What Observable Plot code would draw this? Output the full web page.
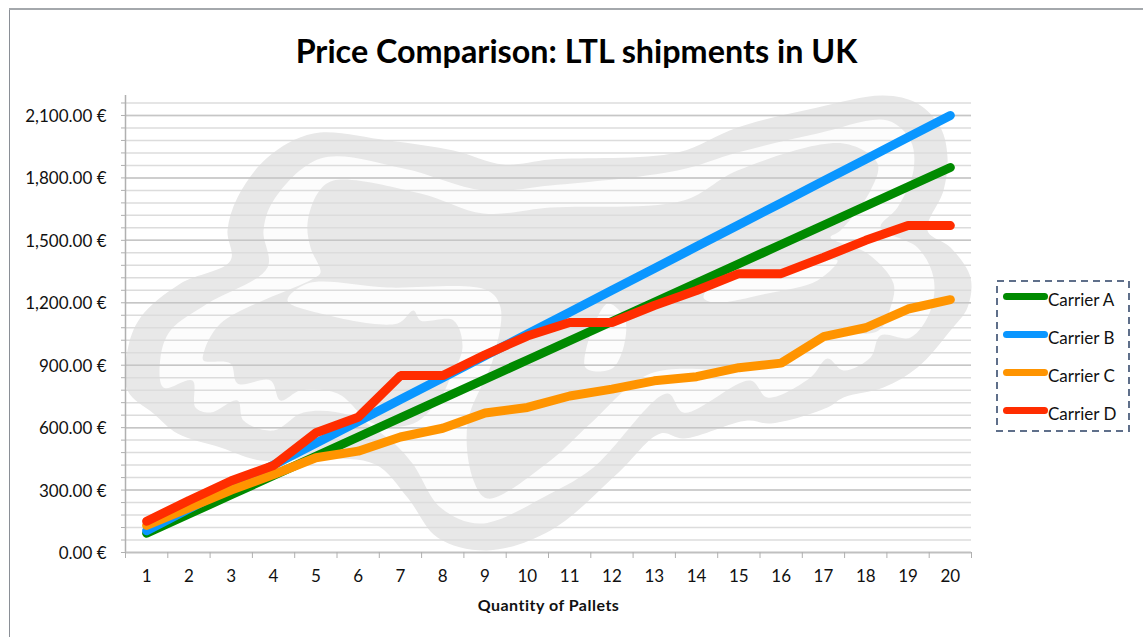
<!DOCTYPE html>
<html><head><meta charset="utf-8">
<script src="https://cdn.jsdelivr.net/npm/d3@7"></script>
<script src="https://cdn.jsdelivr.net/npm/@observablehq/plot@0.6"></script>
<style>
html,body{margin:0;padding:0;background:#fff}
#page{position:relative;width:1143px;height:637px;overflow:hidden;font-family:Lato,sans-serif;color:#111}
#title{height:95px;box-sizing:border-box;padding-top:30px;text-align:center;font-size:32.3px;line-height:42px;font-weight:700;color:#000;margin-left:10px}
#edgeL{position:absolute;left:9px;top:9px;bottom:0;width:1px;background:#8a8f96}
#edgeT{position:absolute;left:9px;right:0;top:8px;height:2px;background:#a4a8ac}
#legend{position:absolute;left:996px;top:280px;width:134px;height:152px;box-sizing:border-box}
#legend svg{position:absolute;left:0;top:0}
.row{position:absolute;left:7px;height:20px;display:flex;align-items:center;font-size:17px}
.sw{display:block;width:45px;height:7px;border-radius:4px;margin-top:-5px}
svg{display:block;font-family:Lato,sans-serif}
[aria-label="x-axis label"] text{font-weight:700;font-size:16px;letter-spacing:.5px}
</style></head><body>
<div id="page">
<div id="edgeL"></div><div id="edgeT"></div>
<div id="title">Price Comparison: LTL shipments in UK</div>
<div id="chart"></div>
<div id="legend"><svg width="134" height="152"><rect x="1" y="1" width="132" height="150" fill="none" stroke="#5f6f8a" stroke-width="2" stroke-dasharray="7 5"/></svg></div>
</div>
<script>
const pallets=[1,2,3,4,5,6,7,8,9,10,11,12,13,14,15,16,17,18,19,20];
const carrierA=[92.5,185,277.5,370,462.5,555,647.5,740,832.5,925,1017.5,1110,1202.5,1295,1387.5,1480,1572.5,1665,1757.5,1850];
const carrierB=[105,210,315,420,525,630,735,840,945,1050,1155,1260,1365,1470,1575,1680,1785,1890,1995,2100];
const carrierC=[130,215,300,375,455,487,555,597,670,697,752,785,825,845,888,910,1037,1080,1170,1215];
const carrierD=[150,250,345,418,575,650,850,850,950,1040,1105,1105,1187,1259,1340,1340,1418,1500,1571,1571];
const names=["Carrier A","Carrier B","Carrier C","Carrier D"];
const colors=["#008a00","#0a96ff","#ff9400","#ff2d00"];
const seriesValues=[carrierA,carrierB,carrierC,carrierD];
const majorTicks=[0,300,600,900,1200,1500,1800,2100];
const minorTicks=d3.range(0,2196,60);
const bandEdges=d3.range(0.5,21,1);

// Background logo outlines (picture coordinates, an image-like asset)
const logoOuter=[[313,133],[387,140],[453,150],[503,164],[550,159],[677,152],[737,127],[817,107],[883,95],[917,103],[940,127],[947,157],[943,190],[927,230],[950,247],[970,277],[967,307],[950,330],[917,367],[883,387],[843,397],[827,407],[770,423],[747,420],[683,438],[660,433],[617,473],[550,530],[487,550],[437,537],[407,497],[375,464],[320,458],[260,460],[220,447],[177,433],[153,413],[127,390],[127,350],[140,317],[180,283],[230,260],[227,230],[237,197],[267,157]];
const logoRing=[[320,158],[403,168],[483,190],[550,185],[677,170],[737,152],[817,133],[887,120],[910,140],[913,170],[897,207],[880,227],[917,247],[933,277],[930,310],[910,337],[880,335],[870,357],[843,370],[827,358],[810,377],[767,397],[750,380],[683,412],[667,393],[593,467],[550,493],[480,523],[440,507],[412,463],[390,440],[350,415],[303,412],[273,430],[243,420],[237,400],[210,412],[195,407],[192,380],[163,387],[160,357],[170,330],[207,303],[267,267],[263,230],[273,200]];
const logoInner=[[307,223],[317,193],[333,180],[420,193],[483,213],[550,207],[683,200],[737,170],[843,143],[877,163],[870,190],[840,230],[830,237],[867,253],[893,283],[890,307],[878,330],[823,335],[763,367],[740,370],[650,373],[590,423],[550,460],[487,498],[473,480],[467,423],[493,357],[500,307],[487,290],[387,287],[307,283],[287,300],[320,313],[397,323],[413,310],[420,320],[453,320],[462,347],[450,377],[440,397],[413,423],[373,423],[337,393],[300,390],[280,400],[270,380],[237,383],[230,363],[203,360],[203,353],[220,323],[313,278],[320,272],[310,247]];
const logoPatch1=[[703,297],[717,280],[780,270],[837,260],[817,280],[767,293],[713,302]];
const logoPatch2=[[607,303],[625,320],[613,367],[585,367]];
const toData=([px,py])=>({q:(px-146.15)/42.3+1,p:(552-py)/0.2081});
const blob=(pts,fill)=>Plot.line(pts.map(toData),{x:"q",y:"p",fill,stroke:"none",curve:"catmull-rom-closed"});

const rows=names.flatMap((name,i)=>pallets.map((q,j)=>({q,price:seriesValues[i][j],name})));
const fmt=d=>d3.format(",.2f")(d)+" €";

const plot=Plot.plot({
  width:1143,height:542,
  marginLeft:125,marginRight:172,marginTop:0,marginBottom:85,
  x:{type:"linear",domain:[0.5,20.5]},
  y:{domain:[0,2196]},
  color:{domain:names,range:colors},
  marks:[
    blob(logoOuter,"#e8e8e8"),
    blob(logoRing,"#fcfcfc"),
    blob(logoInner,"#e8e8e8"),
    blob(logoPatch1,"#fcfcfc"),
    blob(logoPatch2,"#fcfcfc"),
    Plot.ruleY(minorTicks,{stroke:"#dcdcdc",strokeWidth:1.5}),
    Plot.ruleY(majorTicks,{stroke:"#c6c6c6",strokeWidth:1.5}),
    Plot.ruleX([0.5],{stroke:"#b0b0b0",strokeWidth:1.5}),
    Plot.ruleY([0],{stroke:"#c0c0c0",strokeWidth:1.5}),
    Plot.axisY({ticks:minorTicks,tickSize:4,tickFormat:()=>"",stroke:"#b0b0b0",label:null}),
    Plot.axisY({ticks:majorTicks,tickSize:0,tickPadding:19,tickFormat:fmt,fontSize:17,dy:1,label:null,fill:"#111"}),
    Plot.axisX({ticks:bandEdges,tickSize:6,tickFormat:()=>"",stroke:"#b0b0b0",label:null}),
    Plot.axisX({ticks:pallets,tickSize:0,tickPadding:17,tickFormat:d=>d,fontSize:17,fill:"#111",
      label:"Quantity of Pallets",labelAnchor:"center",labelArrow:"none",labelOffset:58}),
    Plot.line(rows,{x:"q",y:"price",z:"name",stroke:"name",strokeWidth:9,strokeLinecap:"round",strokeLinejoin:"miter"})
  ]
});
document.getElementById("chart").appendChild(plot);

const legend=document.getElementById("legend");
names.forEach((n,i)=>{
  const r=document.createElement("div");r.className="row";r.style.top=(9+i*38)+"px";
  const s=document.createElement("span");s.className="sw";s.style.background=colors[i];
  const t=document.createElement("span");t.textContent=n;
  r.append(s,t);legend.appendChild(r);
});
</script>
</body></html>
